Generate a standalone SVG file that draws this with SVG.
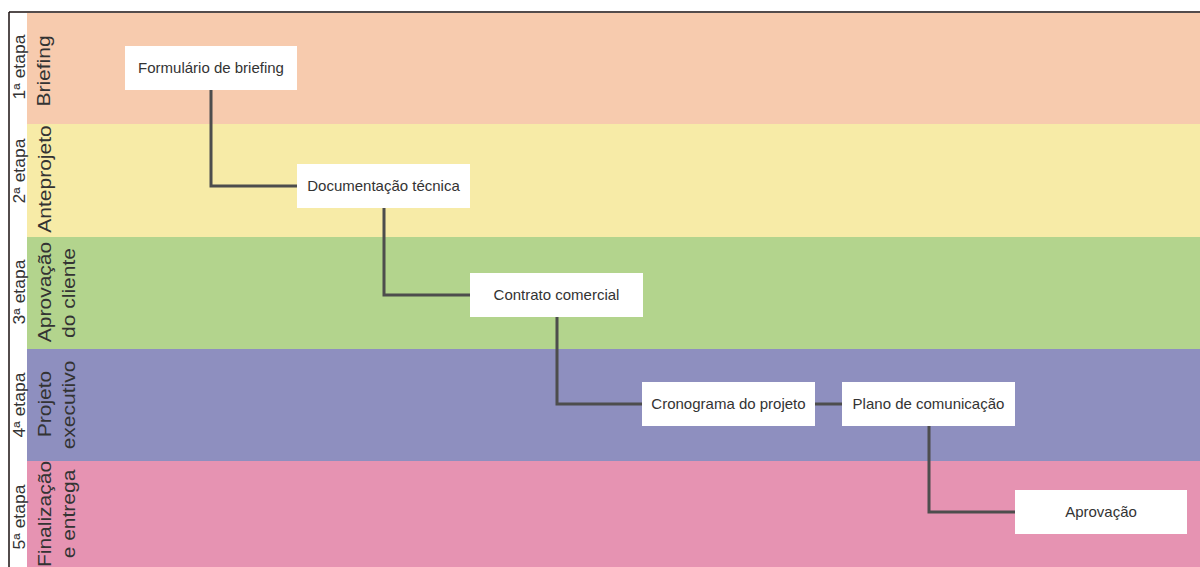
<svg xmlns="http://www.w3.org/2000/svg" width="1200" height="567" viewBox="0 0 1200 567">
<style>
.lane-label{font-family:"Liberation Sans",Arial,sans-serif;font-size:21px;fill:#333;text-anchor:middle}
.stage{font-family:"Liberation Sans",Arial,sans-serif;font-size:17.5px;fill:#333;text-anchor:middle}
.box{fill:#fff}
.nt{font-family:"Liberation Sans",Arial,sans-serif;font-size:15px;fill:#333;text-anchor:middle}
.conn{fill:none;stroke:#4d4d4d;stroke-width:3;stroke-linejoin:miter}
</style>
<rect x="0" y="0" width="1200" height="567" fill="#fff"/>
<g id="lanes">
<rect x="27" y="13" width="1173" height="111" fill="#F7CBAE"/>
<rect x="27" y="124" width="1173" height="113" fill="#F7EBA7"/>
<rect x="27" y="237" width="1173" height="112" fill="#B3D48D"/>
<rect x="27" y="349" width="1173" height="112" fill="#8E8FBF"/>
<rect x="27" y="461" width="1173" height="106" fill="#E693B2"/>
</g>
<g id="borders" stroke="#1a1010" stroke-width="1.5">
<line x1="9" y1="12" x2="1200" y2="12"/>
<line x1="9" y1="12" x2="9" y2="567"/>
</g>
<g id="stage-labels">
<text class="stage" transform="translate(25,67) rotate(-90) scale(1,0.9)">1ª etapa</text>
<text class="stage" transform="translate(25,171) rotate(-90) scale(1,0.9)">2ª etapa</text>
<text class="stage" transform="translate(25,292) rotate(-90) scale(1,0.9)">3ª etapa</text>
<text class="stage" transform="translate(25,405) rotate(-90) scale(1,0.9)">4ª etapa</text>
<text class="stage" transform="translate(25,517) rotate(-90) scale(1,0.9)">5ª etapa</text>
</g>
<g id="lane-labels">
<text class="lane-label" transform="translate(50,71) rotate(-90) scale(1,0.85)">Briefing</text>
<text class="lane-label" transform="translate(51,179) rotate(-90) scale(1,0.85)">Anteprojeto</text>
<text class="lane-label" transform="translate(51,292) rotate(-90) scale(1,0.85)">Aprovação</text>
<text class="lane-label" transform="translate(75,293) rotate(-90) scale(1,0.85)">do cliente</text>
<text class="lane-label" transform="translate(51,404) rotate(-90) scale(1,0.85)">Projeto</text>
<text class="lane-label" transform="translate(75,405) rotate(-90) scale(1,0.85)">executivo</text>
<text class="lane-label" transform="translate(51,514) rotate(-90) scale(1,0.85)">Finalização</text>
<text class="lane-label" transform="translate(75,514) rotate(-90) scale(1,0.85)">e entrega</text>
</g>
<g id="connectors">
<polyline class="conn" points="211,90 211,186 297,186"/>
<polyline class="conn" points="384,208 384,295 470,295"/>
<polyline class="conn" points="557,317 557,404 642,404"/>
<line class="conn" x1="815" y1="404" x2="842" y2="404"/>
<polyline class="conn" points="929,426 929,512 1015,512"/>
</g>
<g id="n1"><rect class="box" x="125" y="46" width="172" height="44"/><text class="nt" x="211" y="73">Formulário de briefing</text></g>
<g id="n2"><rect class="box" x="297" y="164" width="173" height="44"/><text class="nt" x="383.5" y="191">Documentação técnica</text></g>
<g id="n3"><rect class="box" x="470" y="273" width="173" height="44"/><text class="nt" x="556.5" y="300">Contrato comercial</text></g>
<g id="n4"><rect class="box" x="642" y="382" width="173" height="44"/><text class="nt" x="728.5" y="409">Cronograma do projeto</text></g>
<g id="n5"><rect class="box" x="842" y="382" width="173" height="44"/><text class="nt" x="928.5" y="409">Plano de comunicação</text></g>
<g id="n6"><rect class="box" x="1015" y="490" width="172" height="44"/><text class="nt" x="1101" y="517">Aprovação</text></g>
</svg>
